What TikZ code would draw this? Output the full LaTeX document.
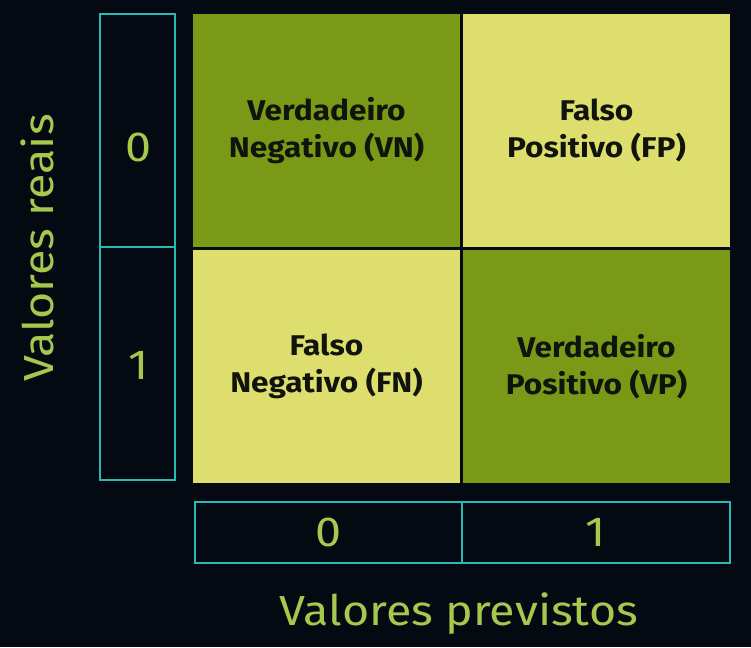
\documentclass[tikz,border=0pt]{standalone}
\usepackage{fontspec}
\setmainfont[FakeStretch=1.11]{Fira Sans}
\usepackage{tikz}

\definecolor{bgnavy}{HTML}{050A12}
\definecolor{olivecell}{HTML}{7A9916}
\definecolor{palecell}{HTML}{DEDE6E}
\definecolor{tealline}{HTML}{2AB8B2}
\definecolor{limetext}{HTML}{A6C84E}
\definecolor{celltext}{HTML}{10140C}

\begin{document}
\begin{tikzpicture}[x=1pt,y=-1pt,
    cell/.style={minimum width=267pt,minimum height=233pt,inner sep=0pt,
      align=center,text=celltext,font=\bfseries\fontsize{28.5}{37}\selectfont},
    axisbox/.style={draw=tealline,line width=1.6pt,inner sep=0pt,
      text=limetext,font=\fontsize{42}{42}\selectfont},
    axistitle/.style={text=limetext,inner sep=0pt,font=\fontsize{42}{42}\selectfont}]

    % background
    \fill[bgnavy] (0,0) rectangle (751,647);
    \useasboundingbox (0,0) rectangle (751,647);

    % draw cells
    \node[cell,fill=olivecell] (vn) at (326.5,130.5) {Verdadeiro\\Negativo (VN)};
    \node[cell,fill=palecell]  (fp) at (596.5,130.5) {Falso\\Positivo (FP)};
    \node[cell,fill=palecell]  (fn) at (326.5,366.5) {Falso\\Negativo (FN)};
    \node[cell,fill=olivecell] (vp) at (596.5,366.5) {Verdadeiro\\Positivo (VP)};

    % draw real value boxes
    \node[axisbox,minimum width=75pt,minimum height=233pt] (real0) at (137.5,130.5) {};
    \node[axisbox,minimum width=75pt,minimum height=233pt] (real1) at (137.5,363.5) {};
    \node[text=limetext,font=\fontsize{42}{42}\selectfont] (real0txt) at (139,147) {0};
    \node[text=limetext,font=\fontsize{42}{42}\selectfont] (real1txt) at (139,365) {1};

    % draw predicted value boxes
    \node[axisbox,minimum width=267pt,minimum height=61pt] (prev0) at (328.5,532.5) {0};
    \node[axisbox,minimum width=268pt,minimum height=61pt] (prev1) at (596,532.5) {1};

    % draw axis titles
    \node[axistitle,rotate=90] (reais) at (37,248) {Valores reais};
    \node[axistitle] (previstos) at (459,614) {Valores previstos};

\end{tikzpicture}
\end{document}
